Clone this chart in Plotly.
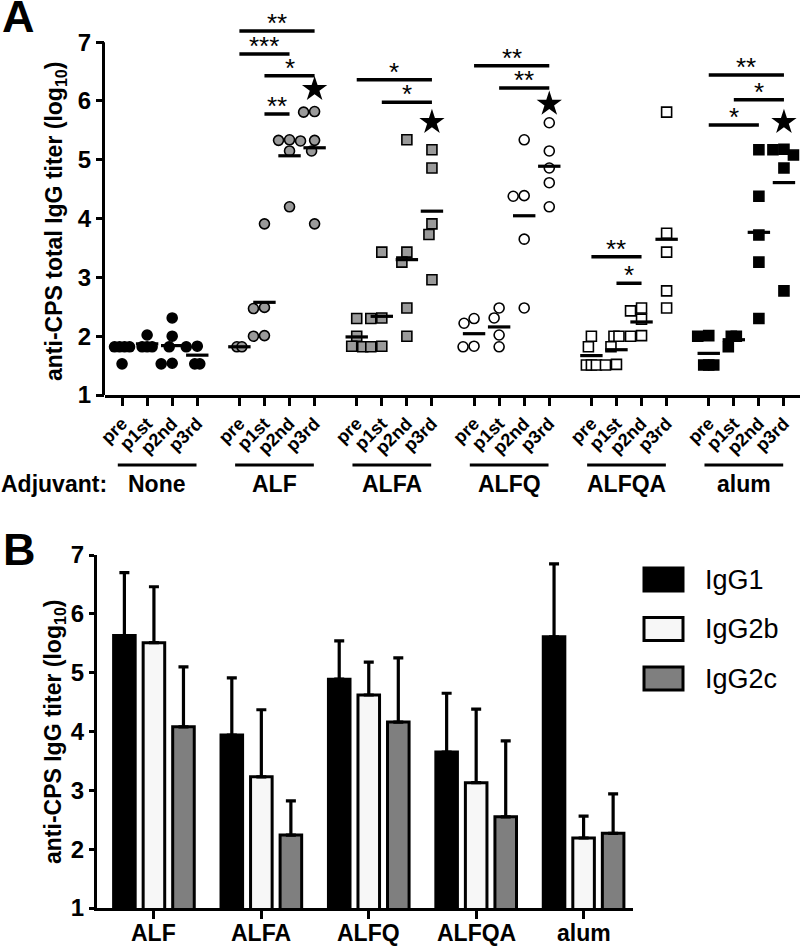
import numpy as np
import plotly.graph_objects as go

FONT = "Liberation Sans, Arial, sans-serif"

# ---------------- Panel A data ----------------
groups = ["None", "ALF", "ALFA", "ALFQ", "ALFQA", "alum"]
timepoints = ["pre", "p1st", "p2nd", "p3rd"]

none_vals = [[1.82, 1.82, 1.82, 1.82, 1.53], [2.02, 1.82, 1.82, 1.82], [2.31, 2.0, 1.82, 1.53, 1.54], [1.82, 1.83, 1.53, 1.53]]
alf_vals = [[1.82, 1.82], [3.91, 2.47, 2.49, 2.0, 2.01], [5.33, 5.34, 5.32, 5.15, 4.2], [5.81, 5.82, 5.33, 5.15, 3.91]]
alfa_vals = [[2.3, 2.0, 1.82, 1.83], [3.43, 2.3, 2.31, 1.82, 1.83], [5.34, 3.43, 3.26, 2.48, 2.0], [5.17, 4.86, 3.91, 3.73, 2.96]]
alfq_vals = [[2.3, 2.22, 1.82, 1.83], [2.48, 2.31, 2.02, 1.82], [5.34, 4.38, 4.39, 3.65, 2.48], [5.63, 5.15, 4.86, 4.61, 4.2]]
alfqa_vals = [[2.0, 1.82, 1.51, 1.51, 1.51], [2.0, 2.0, 1.82, 1.51, 1.52], [2.48, 2.43, 2.29, 2.0, 2.01], [5.81, 3.75, 3.43, 2.77, 2.48]]
alum_vals = [[2.0, 2.01, 1.51, 1.51, 1.51], [2.0, 2.0, 1.82], [5.17, 4.38, 3.72, 3.26, 2.3], [5.17, 5.18, 5.08, 4.86, 2.77]]
group_vals = [none_vals, alf_vals, alfa_vals, alfq_vals, alfqa_vals, alum_vals]

group_symbols = ["circle", "circle", "square", "circle", "square", "square"]
group_fills = ["black", "#9a9a9a", "#9a9a9a", "white", "white", "black"]

star_groups = ["ALF", "ALFA", "ALFQ", "alum"]
star_y = [6.2, 5.64, 5.95, 5.64]

# significance: group, from timepoint, to timepoint, height, label
sig_group = ["ALF", "ALF", "ALF", "ALF", "ALFA", "ALFA", "ALFQ", "ALFQ", "ALFQA", "ALFQA", "alum", "alum", "alum"]
sig_from = ["pre", "pre", "p1st", "p1st", "pre", "p1st", "pre", "p1st", "pre", "p1st", "pre", "p1st", "pre"]
sig_to = ["p3rd", "p2nd", "p3rd", "p2nd", "p3rd", "p3rd", "p3rd", "p3rd", "p2nd", "p2nd", "p3rd", "p3rd", "p2nd"]
sig_y = [7.19, 6.80, 6.43, 5.78, 6.36, 5.98, 6.60, 6.22, 3.35, 2.90, 6.44, 6.02, 5.59]
sig_label = ["**", "***", "*", "**", "*", "*", "**", "**", "**", "*", "**", "*", "*"]

# ---------------- Panel B data ----------------
bar_groups = ["ALF", "ALFA", "ALFQ", "ALFQA", "alum"]
isotypes = ["IgG1", "IgG2b", "IgG2c"]
igg1_mean = [5.63, 3.94, 4.89, 3.65, 5.61]
igg1_top = [6.70, 4.91, 5.54, 4.65, 6.85]
igg2b_mean = [5.51, 3.23, 4.62, 3.13, 2.19]
igg2b_top = [6.46, 4.37, 5.18, 4.38, 2.56]
igg2c_mean = [4.08, 2.24, 4.16, 2.55, 2.27]
igg2c_top = [5.10, 2.82, 5.25, 3.84, 2.94]
iso_means = [igg1_mean, igg2b_mean, igg2c_mean]
iso_tops = [igg1_top, igg2b_top, igg2c_top]
iso_colors = ["black", "#f7f7f7", "#7f7f7f"]

# ---------------- layout geometry ----------------
W, H = 800, 948
GROUP_STEP = 4.68
XA_RANGE = [-0.68, 27.04]
YA_RANGE = [1, 7.45]
xa_dom = [105 / W, 1.0]
ya_dom = [1 - 395 / H, 1 - 15.7 / H]
xb_dom = [97 / W, 633 / W]
yb_dom = [1 - 908 / H, 1 - 555 / H]

px_per_x = (xa_dom[1] - xa_dom[0]) * W / (XA_RANGE[1] - XA_RANGE[0])
px_per_y = (ya_dom[1] - ya_dom[0]) * H / (YA_RANGE[1] - YA_RANGE[0])


def pos(g, t):
    return groups.index(g) * GROUP_STEP + timepoints.index(t)


def swarm(vals, D=11.0, same=5.0):
    """simple beeswarm: returns horizontal pixel offsets"""
    placed = []
    offs_for = {}
    for u in sorted(set(vals), reverse=True):
        n = vals.count(u)
        for c in sorted(np.arange(-30, 30.25, 0.5), key=abs):
            offs = [c + (i - (n - 1) / 2) * same for i in range(n)]
            ok = all(np.hypot(o - px, (u - py) * px_per_y) >= D for o in offs for (px, py) in placed)
            if ok:
                break
        placed += [(o, u) for o in offs]
        offs_for[u] = list(offs)
    res = []
    for v in vals:
        res.append(offs_for[v].pop(0))
    return res


fig = go.Figure()

# points
for gi, g in enumerate(groups):
    xs, ys = [], []
    for ti, t in enumerate(timepoints):
        vals = group_vals[gi][ti]
        offs = swarm(vals)
        xs += [pos(g, t) + o / px_per_x for o in offs]
        ys += vals
    fig.add_trace(go.Scatter(
        x=xs, y=ys, mode="markers", xaxis="x", yaxis="y", showlegend=False,
        marker=dict(symbol=group_symbols[gi], size=10, color=group_fills[gi],
                    line=dict(color="black", width=1.6)),
        cliponaxis=False))

# means
mx, my = [], []
for gi, g in enumerate(groups):
    for ti, t in enumerate(timepoints):
        mx.append(pos(g, t))
        my.append(float(np.mean(group_vals[gi][ti])))
fig.add_trace(go.Scatter(x=mx, y=my, mode="markers", xaxis="x", yaxis="y", showlegend=False,
                         marker=dict(symbol="line-ew", size=16, line=dict(color="black", width=3.2)),
                         cliponaxis=False))

# stars
fig.add_trace(go.Scatter(x=[pos(g, "p3rd") for g in star_groups], y=star_y, mode="markers",
                         xaxis="x", yaxis="y", showlegend=False,
                         marker=dict(symbol="star", size=19, color="black"), cliponaxis=False))

shapes = []
annotations = []

# significance bars
for g, a, b, yv, lab in zip(sig_group, sig_from, sig_to, sig_y, sig_label):
    x0, x1 = pos(g, a), pos(g, b)
    shapes.append(dict(type="line", xref="x", yref="y", x0=x0, x1=x1, y0=yv, y1=yv,
                       line=dict(color="black", width=3.5)))
    annotations.append(dict(xref="x", yref="y", x=(x0 + x1) / 2, y=yv, text=lab, showarrow=False,
                            yanchor="bottom", yshift=-9,
                            font=dict(family=FONT, size=26, color="black")))

# y-axis line of panel A (only 1..7)
shapes.append(dict(type="line", xref="paper", yref="y", x0=xa_dom[0] - 1.5 / W, x1=xa_dom[0] - 1.5 / W,
                   y0=1, y1=7, line=dict(color="black", width=3)))

# adjuvant row
adj_line_y = 1 - 465 / H
adj_text_y = 1 - 484 / H
for g in groups:
    x0 = pos(g, "pre") - 0.17
    x1 = pos(g, "p3rd") - 0.03
    shapes.append(dict(type="line", xref="x", yref="paper", x0=x0, x1=x1, y0=adj_line_y, y1=adj_line_y,
                       line=dict(color="black", width=3)))
    annotations.append(dict(xref="x", yref="paper", x=(x0 + x1) / 2, y=adj_text_y, text=f"<b>{g}</b>",
                            showarrow=False, xanchor="center", yanchor="middle",
                            font=dict(family=FONT, size=23, color="black")))
annotations.append(dict(xref="paper", yref="paper", x=109 / W, y=adj_text_y, text="<b>Adjuvant:</b>",
                        showarrow=False, xanchor="right", yanchor="middle",
                        font=dict(family=FONT, size=23, color="black")))

# axis titles
annotations.append(dict(xref="paper", yref="paper", x=55 / W, y=1 - 222 / H,
                        text="<b>anti-CPS total IgG titer (log<sub>10</sub>)</b>", textangle=-90,
                        showarrow=False, xanchor="center", yanchor="middle",
                        font=dict(family=FONT, size=23, color="black")))
annotations.append(dict(xref="paper", yref="paper", x=54 / W, y=1 - 732 / H,
                        text="<b>anti-CPS IgG titer (log<sub>10</sub>)</b>", textangle=-90,
                        showarrow=False, xanchor="center", yanchor="middle",
                        font=dict(family=FONT, size=23, color="black")))

# panel letters
annotations.append(dict(xref="paper", yref="paper", x=0, y=1 - 17 / H, text="<b>A</b>",
                        showarrow=False, xanchor="left", yanchor="middle",
                        font=dict(family=FONT, size=45, color="black")))
annotations.append(dict(xref="paper", yref="paper", x=1 / W, y=1 - 549 / H, text="<b>B</b>",
                        showarrow=False, xanchor="left", yanchor="middle",
                        font=dict(family=FONT, size=45, color="black")))

# ---------------- Panel B bars ----------------
for iso, means, tops, col in zip(isotypes, iso_means, iso_tops, iso_colors):
    fig.add_trace(go.Bar(
        x=bar_groups, y=means, name=iso, xaxis="x2", yaxis="y2", showlegend=False,
        marker=dict(color=col, line=dict(color="black", width=3)),
        error_y=dict(type="data", symmetric=False,
                     array=[t - m for t, m in zip(tops, means)],
                     arrayminus=[0] * len(means), color="black", thickness=3.2, width=5)))

# category labels of panel B (placed on the category axis, tight under the ticks)
for g in bar_groups:
    annotations.append(dict(xref="x2", yref="paper", x=g, y=1 - 933 / H, text=f"<b>{g}</b>",
                            showarrow=False, xanchor="center", yanchor="middle",
                            font=dict(family=FONT, size=23, color="black")))

# legend (manual, large swatches)
leg_top = [568, 617.5, 667]
for iso, col, yt in zip(isotypes, iso_colors, leg_top):
    shapes.append(dict(type="rect", xref="paper", yref="paper", x0=644 / W, x1=683 / W,
                       y0=1 - (yt + 23) / H, y1=1 - yt / H,
                       line=dict(color="black", width=3), fillcolor=col))
    annotations.append(dict(xref="paper", yref="paper", x=703 / W, y=1 - (yt + 11.5) / H, text=iso,
                            showarrow=False, xanchor="left", yanchor="middle",
                            font=dict(family=FONT, size=27, color="black")))

axis_common = dict(showgrid=False, zeroline=False, ticks="outside", ticklen=8, tickwidth=3,
                   tickcolor="black", linecolor="black", linewidth=3, automargin=False)

fig.update_layout(
    width=W, height=H, margin=dict(l=0, r=0, t=0, b=0, autoexpand=False),
    paper_bgcolor="white", plot_bgcolor="white",
    font=dict(family=FONT, color="black"),
    barmode="group", bargap=0.175, bargroupgap=0.27,
    xaxis=dict(domain=xa_dom, range=XA_RANGE, anchor="y", showline=True,
               tickmode="array",
               tickvals=[pos(g, t) for g in groups for t in timepoints],
               ticktext=[t for g in groups for t in timepoints],
               tickangle=-45, tickfont=dict(family=FONT, size=18, color="black", weight="bold"),
               **axis_common),
    yaxis=dict(domain=ya_dom, range=YA_RANGE, anchor="x", showline=False,
               tickmode="array", tickvals=[1, 2, 3, 4, 5, 6, 7],
               tickfont=dict(family=FONT, size=24, color="black", weight="bold"),
               **axis_common),
    xaxis2=dict(domain=xb_dom, range=[-0.53, 4.46], anchor="y2", showline=True,
                showticklabels=False, **axis_common),
    yaxis2=dict(domain=yb_dom, range=[1, 7], anchor="x2", showline=True,
                tickmode="array", tickvals=[1, 2, 3, 4, 5, 6, 7],
                tickfont=dict(family=FONT, size=24, color="black", weight="bold"),
                **{**axis_common, "ticklen": 5}),
    shapes=shapes, annotations=annotations,
)

fig.write_html("out.html", config={"displayModeBar": False},
               post_script="document.body.style.margin='0';document.body.style.padding='0';")
